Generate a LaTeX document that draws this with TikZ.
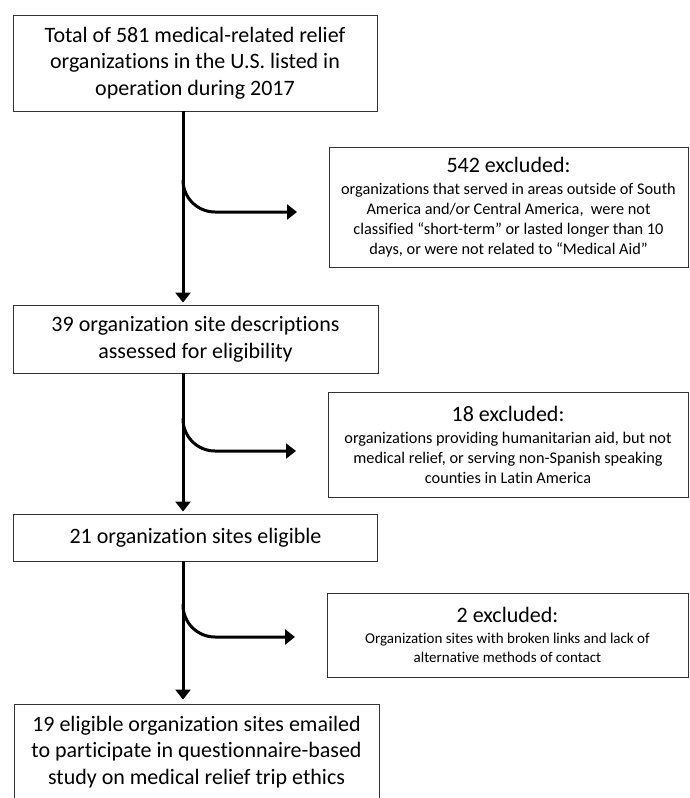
\documentclass[tikz,border=0pt]{standalone}
\usepackage{fontspec}
\setmainfont{Carlito}[Ligatures=NoCommon]
\usetikzlibrary{positioning, arrows.meta}
\tikzset{
	stage/.style n args={2}{
		draw=black!80, % Thin dark border
		line width=0.9pt, % Border width
		rectangle, % Shape of the node
		minimum width=#1, % Width of the box
		minimum height=#2, % Height of the box
		inner sep=0pt,
		align=center, % Text alignment within the node
		font=\fontsize{22}{26.5}\selectfont
	},
	excluded/.style n args={2}{
		stage={#1}{#2},
		font=\fontsize{16.3}{20}\selectfont
	},
	flow/.style={line width=3pt, -{Triangle[length=10pt, width=15pt]}}
}
\newcommand{\headline}[1]{{\fontsize{22}{26}\selectfont #1}\\[2pt]}

\begin{document}
\begin{tikzpicture}[x=1pt, y=-1pt]
	\useasboundingbox (0,0) rectangle (689,798);
	
	\coordinate (spine) at (183,0);
	
	\node[stage={364pt}{96pt}] (total) at (195,63) {Total of 581 medical-related relief\\organizations in the U.S. listed in\\operation during 2017};
	\node[excluded={359pt}{120pt}] (out1) at (508.5,207) {\headline{542 excluded:}organizations that served in areas outside of South\\America and/or Central America,\ \ were not\\classified “short-term” or lasted longer than 10\\days, or were not related to “Medical Aid”};
	
	\node[stage={365pt}{68pt}] (assessed) at (195.5,339) {39 organization site descriptions\\assessed for eligibility};
	\node[excluded={360pt}{105pt}] (out2) at (508,444.5) {\headline{18 excluded:}organizations providing humanitarian aid, but not\\medical relief, or serving non-Spanish speaking\\counties in Latin America};
	
	\node[stage={364pt}{47pt}] (eligible) at (195.5,537.5) {21 organization sites eligible};
	\node[excluded={361pt}{84pt}, font=\fontsize{15}{19}\selectfont] (out3) at (507.5,635) {\headline{2 excluded:}Organization sites with broken links and lack of\\alternative methods of contact};
	
	\node[stage={365pt}{96pt}] (emailed) at (196.5,752) {19 eligible organization sites emailed\\to participate in questionnaire-based\\study on medical relief trip ethics};
	
	% main flow
	\draw[flow, shorten >=2pt] (total.south -| spine) -- (assessed.north -| spine);
	\draw[flow, shorten >=2pt] (assessed.south -| spine) -- (eligible.north -| spine);
	\draw[flow, shorten >=4pt] (eligible.south -| spine) -- (emailed.north -| spine);
	
	% exclusions
	\coordinate (fork1) at (183,180);
	\coordinate (exit1) at (297,212);
	\draw[flow, rounded corners=32pt] (fork1) |- (exit1);
	
	\coordinate (fork2) at (183,418);
	\coordinate (exit2) at (296,451);
	\draw[flow, rounded corners=32pt] (fork2) |- (exit2);
	
	\coordinate (fork3) at (183,604);
	\coordinate (exit3) at (295,637);
	\draw[flow, rounded corners=32pt] (fork3) |- (exit3);
	
\end{tikzpicture}
\end{document}
